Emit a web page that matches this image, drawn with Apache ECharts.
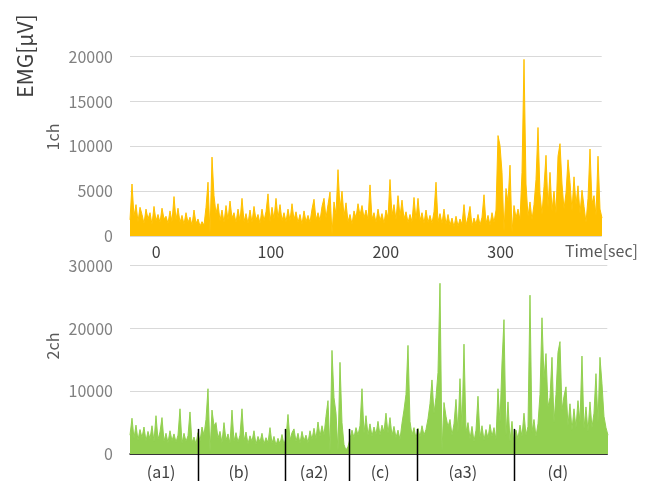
<!DOCTYPE html>
<html>
<head>
<meta charset="utf-8">
<script src="https://cdn.jsdelivr.net/npm/echarts@6/dist/echarts.min.js"></script>
<style>
html,body{margin:0;padding:0;background:#fff;}
#chart{width:654px;height:481px;}
</style>
</head>
<body>
<div id="chart"></div>
<script>
// ---- data ----
// Channel 1 (1ch) EMG [μV], sampled every DT seconds starting at T0
const T0 = -22.7;
const DT = 1.7414;
const ch1Values = [
1800,5800,2200,3500,1600,3200,2400,1400,3000,1900,2600,1300,3300,1700,2400,1500,3100,1900,2200,1400,
2800,1600,4400,1800,3100,1500,2300,1300,2600,1500,2100,1200,2900,1400,1900,1100,1600,1200,3200,6000,
300,8800,4500,2500,3600,1700,2900,1500,3400,1800,3900,2000,2600,1500,3000,1700,4200,1600,2500,1400,
2900,1500,3300,1800,2400,1400,3000,1700,2700,4700,1600,3200,1900,4200,2000,3500,1700,2600,1600,3000,
1700,3600,1800,2700,1500,2400,1300,2800,1600,2300,1500,3000,4100,1800,2600,1700,3300,4200,2000,3500,
4900,200,3800,2400,7400,3000,5000,2200,3700,1600,2400,1300,2800,2000,3600,2300,3400,2000,2900,1800,
5700,1900,2600,1500,3000,1700,2500,1400,2900,2000,6300,2300,3500,1800,4500,2200,4000,1900,2700,1500,
2400,1600,4300,1800,4200,1700,2600,1400,2900,1500,2300,1400,2700,6000,1600,2500,1400,3000,1300,2400,
1200,2000,1000,2200,1100,1900,1300,3500,1200,2100,3300,1100,2000,1300,2400,1200,2100,4600,1400,2300,
1200,2600,1500,2900,11200,10100,7100,500,5300,3800,7900,400,3400,2000,3000,1800,7100,19700,5800,2200,
3800,1800,3500,6300,12100,4700,2400,5500,9000,3200,7100,2800,5000,2500,8900,10300,5800,3000,4800,8500,
6000,2800,6600,3500,5600,2500,5100,3300,1500,4200,9700,3600,4500,2300,8900,3000,2000
];
// Channel 2 (2ch) EMG [μV], sampled every DT seconds starting at 0
const ch2Values = [
3000,5700,2500,4600,2200,3900,2600,4300,2100,3600,2400,4500,2000,6100,2300,3500,5800,2000,3300,1800,
3700,2100,3200,1900,3000,7200,1700,3300,2000,2900,6700,1800,2700,1600,3400,2000,4300,3000,5500,10400,
300,7000,4500,5000,2500,3600,1800,5000,2200,3200,1700,7000,2000,3400,1900,3000,7200,2100,3500,1600,
2900,2000,3700,1500,2800,1900,3300,1600,2600,1800,4200,1700,2800,1400,2500,1600,3100,1500,2600,6300,
2200,3400,4000,2000,3300,1700,3600,2100,3000,1800,3700,2300,4100,2400,5100,2800,4500,3000,6000,8500,
300,16500,9000,6500,500,14600,5000,1500,600,1200,2400,3800,2600,4200,3000,4500,10400,3300,6100,3000,
4800,2800,4300,3100,5200,3000,4600,3500,6500,3300,5800,2900,4400,2600,3800,2300,4900,7000,9500,17300,
5200,3000,4200,2500,4100,2700,4500,3000,3900,5600,8000,11800,6500,9000,13000,27200,400,8200,6000,4300,
5500,3000,4800,8700,3500,12000,4000,17500,3500,5000,2400,4400,2000,3800,9200,2600,4500,2200,3900,2500,
4700,2800,4200,2300,10400,5000,14500,21400,3000,8300,2000,5200,1500,3800,2400,4600,2800,6500,3000,4400,
25300,3500,5500,2800,4800,9500,21700,12000,16000,7500,9000,15400,5000,9500,16200,17900,7000,9200,10700,4500,
8000,3800,7200,4200,8500,5000,15600,4000,7500,3600,8300,4200,6500,12800,5000,15400,11200,6000,4200,3000
];
// Tick labels
const ch1TimeTicks = [0, 100, 200, 300];
const ch1YTicks = [0, 5000, 10000, 15000, 20000];
const ch2YTicks = [0, 10000, 20000, 30000];
// Segments of the 2ch record (boundaries in seconds)
const segmentNames = ['(a1)', '(b)', '(a2)', '(c)', '(a3)', '(d)'];
const segmentBounds = [59.5, 135.2, 190.7, 250.1, 334.6];
const ch2End = 415.6;

// ---- chart ----
const FONT = '"Noto Sans CJK JP", "Noto Sans", sans-serif';
const chart = echarts.init(document.getElementById('chart'), null, {renderer: 'canvas'});

const ch1Data = ch1Values.map((v, i) => [T0 + i * DT, v]);
const ch2Data = ch2Values.map((v, i) => [i * DT, v]);
const segEdges = [0].concat(segmentBounds, [ch2End]);
const segMids = segmentNames.map((n, k) => [(segEdges[k] + segEdges[k + 1]) / 2]);
const plain = v => String(v);

const option = {
  animation: false,
  backgroundColor: '#ffffff',
  grid: [
    {left: 130, right: 52.3, top: 56.7, height: 179.3},
    {left: 130, right: 46.7, top: 265.7, height: 188.3}
  ],
  xAxis: [
    {
      gridIndex: 0, type: 'value', min: T0, max: 388.0,
      axisLine: {show: false}, axisTick: {show: false}, splitLine: {show: false},
      axisLabel: {customValues: ch1TimeTicks, formatter: plain, color: '#404040', fontSize: 16, fontFamily: FONT, margin: 8}
    },
    {
      gridIndex: 1, type: 'value', min: 0, max: ch2End,
      axisLine: {show: true, onZero: false, lineStyle: {color: '#000000', width: 1.5}},
      axisTick: {show: false}, splitLine: {show: false}, axisLabel: {show: false}
    }
  ],
  yAxis: [
    {
      gridIndex: 0, type: 'value', min: ch1YTicks[0], max: ch1YTicks[ch1YTicks.length - 1], interval: 5000,
      axisLine: {show: false}, axisTick: {show: false},
      splitLine: {show: true, lineStyle: {color: '#D9D9D9', width: 1}},
      axisLabel: {formatter: plain, color: '#808080', fontSize: 16, fontFamily: FONT, margin: 17}
    },
    {
      gridIndex: 1, type: 'value', min: ch2YTicks[0], max: ch2YTicks[ch2YTicks.length - 1], interval: 10000,
      axisLine: {show: false}, axisTick: {show: false},
      splitLine: {show: true, lineStyle: {color: '#D9D9D9', width: 1}},
      axisLabel: {formatter: plain, color: '#808080', fontSize: 16, fontFamily: FONT, margin: 17}
    }
  ],
  series: [
    {
      type: 'line', xAxisIndex: 0, yAxisIndex: 0, data: ch1Data,
      symbol: 'none', sampling: 'none', clip: true,
      lineStyle: {color: '#FFC000', width: 1},
      areaStyle: {color: '#FFC000', opacity: 1},
      itemStyle: {color: '#FFC000'}, z: 2
    },
    {
      type: 'line', xAxisIndex: 1, yAxisIndex: 1, data: ch2Data,
      symbol: 'none', sampling: 'none', clip: true,
      lineStyle: {color: '#92D050', width: 1},
      areaStyle: {color: '#92D050', opacity: 1},
      itemStyle: {color: '#92D050'}, z: 2
    },
    {
      type: 'custom', xAxisIndex: 1, yAxisIndex: 1, clip: false, z: 5,
      data: segmentBounds.map(b => [b]),
      encode: {x: 0},
      renderItem: function (params, api) {
        const p = api.coord([api.value(0), 4000]);
        return {
          type: 'line',
          shape: {x1: Math.round(p[0]) + 0.5, y1: p[1], x2: Math.round(p[0]) + 0.5, y2: api.getHeight()},
          style: {stroke: '#000000', lineWidth: 1.5}
        };
      }
    },
    {
      type: 'custom', xAxisIndex: 1, yAxisIndex: 1, clip: false, z: 5,
      data: segMids,
      encode: {x: 0},
      renderItem: function (params, api) {
        const p = api.coord([api.value(0), 0]);
        return {
          type: 'text',
          x: p[0] - 3, y: p[1] + 18,
          style: {
            text: segmentNames[params.dataIndex], fill: '#404040',
            font: '16px ' + FONT, align: 'center', verticalAlign: 'middle'
          }
        };
      }
    }
  ],
  graphic: [
    {type: 'text', x: 25, y: 56, rotation: Math.PI / 2,
     style: {text: 'EMG[μV]', fill: '#404040', font: '21px ' + FONT, align: 'center', verticalAlign: 'middle'}},
    {type: 'text', x: 53, y: 137, rotation: Math.PI / 2,
     style: {text: '1ch', fill: '#595959', font: '16px ' + FONT, align: 'center', verticalAlign: 'middle'}},
    {type: 'text', x: 53, y: 346, rotation: Math.PI / 2,
     style: {text: '2ch', fill: '#595959', font: '16px ' + FONT, align: 'center', verticalAlign: 'middle'}},
    {type: 'text', x: 565, y: 251,
     style: {text: 'Time[sec]', fill: '#595959', font: '16px ' + FONT, align: 'left', verticalAlign: 'middle'}}
  ]
};
chart.setOption(option);
</script>
</body>
</html>
